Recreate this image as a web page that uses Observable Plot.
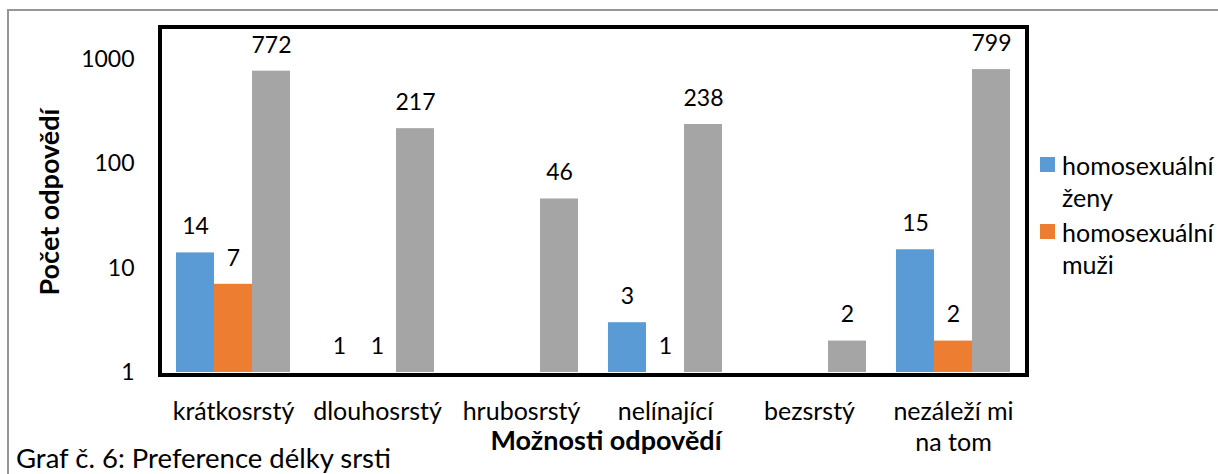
<!DOCTYPE html>
<html>
<head>
<meta charset="utf-8">
<script src="https://cdn.jsdelivr.net/npm/d3@7"></script>
<script src="https://cdn.jsdelivr.net/npm/@observablehq/plot@0.6"></script>
<style>
  html, body { margin: 0; padding: 0; background: #fff; }
  #wrap { position: relative; width: 1218px; height: 474px; overflow: hidden; font-family: Lato, "Open Sans", sans-serif; color: #000; }
  #wrap svg { position: absolute; left: 0; top: 0; }
  .abs { position: absolute; white-space: nowrap; }
  #outer { position: absolute; left: 7px; top: 9px; width: 1300px; height: 600px; border-left: 2px solid #969696; border-top: 2px solid #969696; }
  #pframe { position: absolute; left: 158px; top: 25px; width: 863px; height: 344px; border: 4px solid #000; pointer-events: none; }
  .sw { position: absolute; width: 15px; height: 15px; }
  .lt { position: absolute; font-size: 25px; line-height: 32px; white-space: nowrap; }
</style>
</head>
<body>
<div id="wrap">
  <div id="outer"></div>
</div>
<script>
const categories = ["krátkosrstý", "dlouhosrstý", "hrubosrstý", "nelínající", "bezsrstý", "nezáleží mi na tom"];
const seriesNames = ["homosexuální ženy", "homosexuální muži", "ostatní"];
const zeny = [14, 1, null, 3, null, 15];
const muzi = [7, 1, null, 1, null, 2];
const ostatni = [772, 217, 46, 238, 2, 799];
const yTicks = [1, 10, 100, 1000];
const colors = ["#5B9BD5", "#ED7D31", "#A5A5A5"];

const seriesValues = [zeny, muzi, ostatni];
const rows = [];
categories.forEach((c, i) => {
  seriesNames.forEach((s, j) => {
    const v = seriesValues[j][i];
    if (v != null) rows.push({category: c, series: s, value: v});
  });
});

const fs = 23;
const chart = Plot.plot({
  width: 1218,
  height: 474,
  marginLeft: 160,
  marginRight: 193,
  marginTop: 27,
  marginBottom: 102,
  style: {fontFamily: "Lato, 'Open Sans', sans-serif", fontSize: fs + "px", color: "#000", background: "transparent", overflow: "visible"},
  fx: {domain: categories, paddingInner: 0, paddingOuter: 0, axis: null},
  x: {domain: seriesNames, paddingInner: 0, paddingOuter: 0.372, axis: null},
  y: {type: "log", domain: [1, 2023], axis: null},
  color: {domain: seriesNames, range: colors},
  marks: [
    Plot.barY(rows, {fx: "category", x: "series", y1: () => 1, y2: "value", fill: "series"}),
    Plot.text(rows, {fx: "category", x: "series", y: "value", text: d => String(d.value), dy: -26, fontSize: fs, fill: "#000"}),
    Plot.axisFx({anchor: "bottom", tickSize: 0, tickPadding: 25, label: null, fontSize: 25, lineHeight: 1.25,
      tickFormat: d => d === "nezáleží mi na tom" ? "nezáleží mi\nna tom" : d}),
    Plot.axisY({anchor: "left", ticks: yTicks, tickSize: 0, tickPadding: 27, label: null, fontSize: fs, tickFormat: d => String(d)})
  ]
});

const wrap = document.getElementById("wrap");
wrap.appendChild(chart);

const frame = document.createElement("div");
frame.id = "pframe";
wrap.appendChild(frame);

function addText(txt, left, top, size, extra) {
  const d = document.createElement("div");
  d.className = "abs";
  d.textContent = txt;
  d.style.left = left + "px";
  d.style.top = top + "px";
  d.style.fontSize = size + "px";
  d.style.lineHeight = "32px";
  if (extra) Object.assign(d.style, extra);
  wrap.appendChild(d);
  return d;
}

// y axis title (rotated)
addText("Počet odpovědí", 49, 202, 27, {fontWeight: "bold", transform: "translate(-50%, -50%) rotate(-90deg)", transformOrigin: "center"});
// x axis title
addText("Možnosti odpovědí", 606, 440, 27, {fontWeight: "bold", transform: "translate(-50%, -50%)"});
// caption
addText("Graf č. 6: Preference délky srsti", 16, 444, 27.5, {lineHeight: "28px"});

// legend
const legendEntries = [
  {lines: ["homosexuální", "ženy"], color: colors[0], top: 149},
  {lines: ["homosexuální", "muži"], color: colors[1], top: 216}
];
legendEntries.forEach(e => {
  const sw = document.createElement("div");
  sw.className = "sw";
  sw.style.left = "1040px";
  sw.style.top = (e.top + 8) + "px";
  sw.style.background = e.color;
  wrap.appendChild(sw);
  e.lines.forEach((l, k) => {
    const t = document.createElement("div");
    t.className = "lt";
    t.style.left = "1062px";
    t.style.top = (e.top + k * 32) + "px";
    t.textContent = l;
    wrap.appendChild(t);
  });
});
</script>
</body>
</html>
